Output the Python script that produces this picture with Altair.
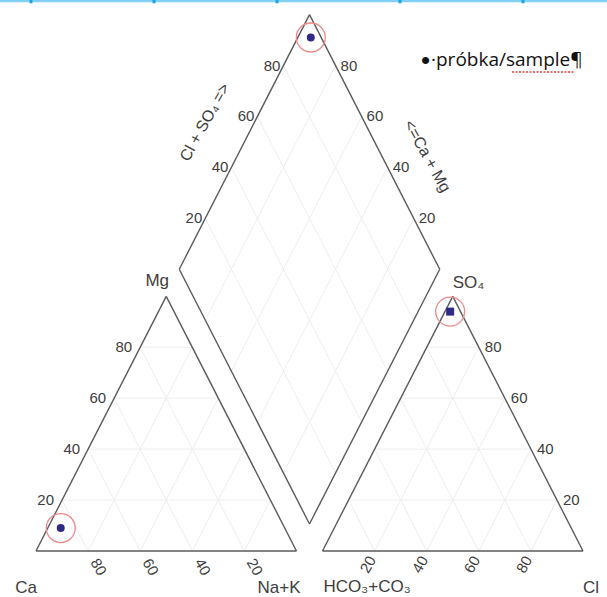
import math

import altair as alt
import pandas as pd

# --- sample composition (% of meq/L) ---------------------------------------
cation_names = ["Ca", "Mg", "Na+K"]
cation_values = [86, 9, 5]
anion_names = ["HCO3+CO3", "SO4", "Cl"]
anion_values = [4, 94, 2]

tick_values = [20, 40, 60, 80]
legend_bullet = "\u2022"
legend_text = "\u00b7pr\u00f3bka/sample\u00b6"

# --- Piper geometry (data units) -------------------------------------------
SIDE = 100.0
GAP = 10.0
H = SIDE * math.sqrt(3) / 2
LIFT = 9.2                      # height of the diamond's lower vertex
X0R = SIDE + GAP                # left vertex of the anion triangle
BX, BY = SIDE + GAP / 2, LIFT   # lower vertex of the diamond
LX, LY = BX - SIDE / 2, BY + H
RX, RY = BX + SIDE / 2, BY + H
TX, TY = BX, BY + 2 * H

W, HT = 547, 547
XDOM = [0, 2 * SIDE + GAP]
YDOM = [0, 186]
PX = W / (XDOM[1] - XDOM[0])
PY = HT / (YDOM[1] - YDOM[0])

FONT = "Liberation Sans"
TXT = "#3d3d3d"
EDGE = "#5a5a5a"
GRID = "#ededed"

xs = alt.Scale(domain=XDOM, nice=False, zero=False)
ys = alt.Scale(domain=YDOM, nice=False, zero=False)


def cation_xy(ca, mg, nak):
    return nak + mg / 2, mg / 100 * H


def anion_xy(hco3, so4, cl):
    return X0R + cl + so4 / 2, so4 / 100 * H


def diamond_xy(camg, clso4):
    return BX + (clso4 - camg) / 100 * SIDE / 2, BY + (camg + clso4) / 100 * H


# --- outlines and grid -------------------------------------------------------
outline = [
    (0, 0, SIDE, 0), (SIDE, 0, SIDE / 2, H), (SIDE / 2, H, 0, 0),
    (X0R, 0, X0R + SIDE, 0), (X0R + SIDE, 0, X0R + SIDE / 2, H), (X0R + SIDE / 2, H, X0R, 0),
    (BX, BY, RX, RY), (RX, RY, TX, TY), (TX, TY, LX, LY), (LX, LY, BX, BY),
]

grid = []
for t in tick_values:
    k = t / 100
    for ox in (0, X0R):
        grid.append((ox + k * 50, k * H, ox + SIDE - k * 50, k * H))
        grid.append((ox + k * SIDE, 0, ox + k * SIDE + (1 - k) * 50, (1 - k) * H))
        grid.append((ox + (1 - k) * SIDE, 0, ox + (1 - k) * 50, (1 - k) * H))
    grid.append((BX - k * 50, BY + k * H, BX - k * 50 + 50, BY + k * H + H))
    grid.append((BX + k * 50, BY + k * H, BX + k * 50 - 50, BY + k * H + H))

seg_cols = ["x", "y", "x2", "y2"]
grid_df = pd.DataFrame(grid, columns=seg_cols)
outline_df = pd.DataFrame(outline, columns=seg_cols)


def segments(df, color, width):
    return alt.Chart(df).mark_rule(color=color, strokeWidth=width).encode(
        x=alt.X("x:Q", scale=xs, axis=None),
        y=alt.Y("y:Q", scale=ys, axis=None),
        x2="x2:Q",
        y2="y2:Q",
    )


def texts(rows, size=15, color=TXT, font=FONT, **kw):
    df = pd.DataFrame(rows, columns=["x", "y", "label"])
    return alt.Chart(df).mark_text(font=font, fontSize=size, color=color, **kw).encode(
        x=alt.X("x:Q", scale=xs, axis=None),
        y=alt.Y("y:Q", scale=ys, axis=None),
        text="label:N",
    )


ks = [t / 100 for t in tick_values]
labels = [str(t) for t in tick_values]

mg_ticks = [(k * 50, k * H, s) for k, s in zip(ks, labels)]
ca_ticks = [((1 - k) * SIDE, 0, s) for k, s in zip(ks, labels)]
cl_ticks = [(X0R + k * SIDE, 0, s) for k, s in zip(ks, labels)]
so4_ticks = [(X0R + SIDE - k * 50, k * H, s) for k, s in zip(ks, labels)]
dl_ticks = [(LX + k * 50, LY + k * H, s) for k, s in zip(ks, labels)]
dr_ticks = [(RX - k * 50, RY + k * H, s) for k, s in zip(ks, labels)]

BASE = "alphabetic"
layers = [
    segments(grid_df, GRID, 1),
    segments(outline_df, EDGE, 1.4),
    texts(mg_ticks, align="right", baseline="middle", dx=-8),
    texts(ca_ticks, align="center", baseline="middle", angle=60, dx=19, dy=-1),
    texts(cl_ticks, align="center", baseline="middle", angle=300, dx=-15, dy=1),
    texts(so4_ticks, align="left", baseline="middle", dx=6),
    texts(dl_ticks, align="right", baseline="middle", dx=-3),
    texts(dr_ticks, align="left", baseline="middle", dx=5),
    # diamond axis titles
    texts([((LX + TX) / 2, (LY + TY) / 2, "Cl + SO\u2084 =>")], size=16,
          align="center", baseline="middle", angle=299, dx=-2, dy=-44),
    texts([((RX + TX) / 2, (RY + TY) / 2, "<=Ca + Mg")], size=16,
          align="center", baseline="middle", angle=61, dx=38, dy=-39),
    # vertex names
    texts([(SIDE / 2, H, cation_names[1])], size=17, align="center", baseline=BASE, dx=-9, dy=-10),
    texts([(0, 0, cation_names[0])], size=17, align="right", baseline=BASE, dx=1, dy=42),
    texts([(SIDE, 0, cation_names[2])], size=17, align="right", baseline=BASE, dx=4, dy=42),
    texts([(X0R, 0, "HCO\u2083+CO\u2083")], size=17, align="left", baseline=BASE, dx=1, dy=41),
    texts([(X0R + SIDE, 0, anion_names[2])], size=17, align="left", baseline=BASE, dx=0, dy=42),
    texts([(X0R + SIDE / 2, H, "SO\u2084")], size=17, align="left", baseline=BASE, dx=0, dy=-8),
]

# --- sample positions -------------------------------------------------------
ca, mg, nak = cation_values
hco3, so4, cl = anion_values
pts = [cation_xy(ca, mg, nak), anion_xy(hco3, so4, cl), diamond_xy(ca + mg, cl + so4)]
pts_df = pd.DataFrame(pts, columns=["x", "y"])
pts_df["shape"] = ["circle", "square", "circle"]

enc = dict(
    x=alt.X("x:Q", scale=xs, axis=None),
    y=alt.Y("y:Q", scale=ys, axis=None),
)
layers.append(
    alt.Chart(pts_df).mark_point(filled=True, color="#2e2a85", opacity=1, size=64).encode(
        shape=alt.Shape("shape:N", scale=None, legend=None), **enc)
)
layers.append(
    alt.Chart(pts_df).mark_point(filled=False, shape="circle", color="#f08a8a",
                                 strokeWidth=1.3, size=840, opacity=1).encode(**enc)
)


# --- legend note and page ruler ----------------------------------------------
def to_u(px):
    return XDOM[0] + (px - 36) / PX


def to_v(py):
    return YDOM[0] + (551 - py) / PY


layers.append(texts([(to_u(421), to_v(61), legend_bullet)], size=26, color="#111111",
                    font="Liberation Sans", align="left", baseline="middle"))
layers.append(texts([(to_u(431), to_v(60), legend_text)], size=19, color="#111111",
                    font="Open Sans", align="left", baseline="middle"))
squiggle = pd.DataFrame([{"x": to_u(512), "x2": to_u(574), "y": to_v(72)}])
layers.append(
    alt.Chart(squiggle).mark_rule(color="#e0413a", strokeWidth=1.3, strokeDash=[2, 1.5]).encode(
        x=alt.X("x:Q", scale=xs, axis=None), x2="x2:Q",
        y=alt.Y("y:Q", scale=ys, axis=None))
)

ruler_marks = [31, 154, 277, 400, 523]
bar = pd.DataFrame([{"x": to_u(0), "x2": to_u(607), "y": to_v(0), "y2": to_v(2.3)}])
layers.append(
    alt.Chart(bar).mark_rect(color="#7fd0f2").encode(
        x=alt.X("x:Q", scale=xs, axis=None), x2="x2:Q",
        y=alt.Y("y:Q", scale=ys, axis=None), y2="y2:Q")
)
marks_df = pd.DataFrame({"x": [to_u(p - 1.5) for p in ruler_marks],
                         "x2": [to_u(p + 1.5) for p in ruler_marks],
                         "y": to_v(0), "y2": to_v(3.3)})
layers.append(
    alt.Chart(marks_df).mark_rect(color="#1aa6e6").encode(
        x=alt.X("x:Q", scale=xs, axis=None), x2="x2:Q",
        y=alt.Y("y:Q", scale=ys, axis=None), y2="y2:Q")
)

chart = (
    alt.layer(*layers)
    .properties(
        width=W,
        height=HT,
        padding={"left": 36, "top": 4, "right": 24, "bottom": 46},
        autosize=alt.AutoSizeParams(type="none"),
        background="white",
    )
    .configure_view(strokeWidth=0)
)

chart.save("out.html", embed_options={"renderer": "svg", "actions": False})
